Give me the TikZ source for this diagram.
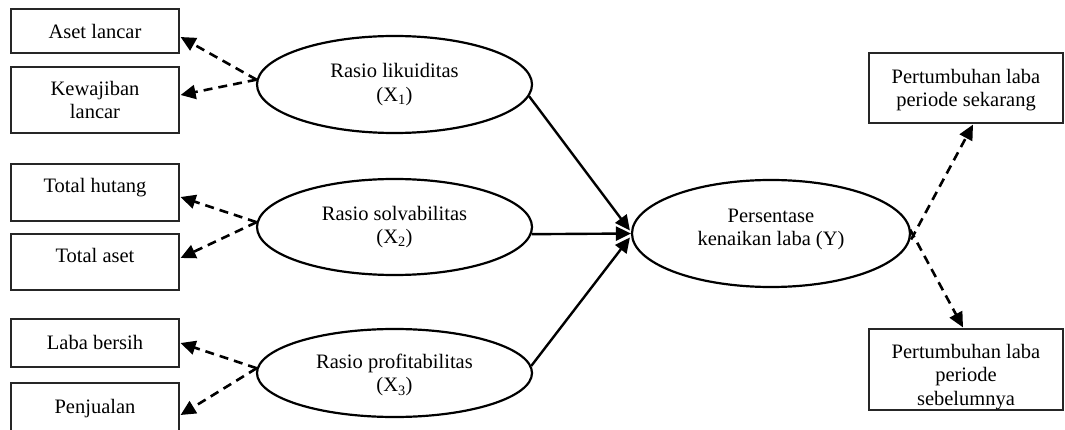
\documentclass[tikz,border=0pt]{standalone}
\usepackage{fontspec}
\setmainfont{Liberation Serif}
\usetikzlibrary{arrows.meta,calc,shapes.geometric}
\begin{document}
\begin{tikzpicture}[x=1pt,y=-1pt,
  txt/.style={font=\fontsize{20.5}{23.5}\selectfont, align=center, inner sep=0pt},
  box/.style={txt, draw=black!85, line width=1.2pt, rectangle},
  lat/.style={txt, draw, ellipse, line width=2.2pt},
  dasharrow/.style={line width=2.6pt, dash pattern=on 9pt off 6pt, -{Triangle[length=15pt,width=14pt]}},
  solidarrow/.style={line width=2.4pt, -{Triangle[length=15pt,width=14pt]}}]
\useasboundingbox (0,0) rectangle (1065,430);

% indicator boxes (left)
\node[box, minimum width=168pt, minimum height=44pt, text height=16pt, text depth=0pt] (b1) at (95,31) {Aset lancar};
\node[box, minimum width=168pt, minimum height=66pt] (b2) at (95,100) {Kewajiban\\lancar};
\node[box, minimum width=168pt, minimum height=57pt, text height=14pt, text depth=13pt] (b3) at (95,192.5) {Total hutang};
\node[box, minimum width=168pt, minimum height=56pt, text height=14pt, text depth=12pt] (b4) at (95,262) {Total aset};
\node[box, minimum width=168pt, minimum height=48pt, text height=14pt, text depth=2pt] (b5) at (95,343) {Laba bersih};
\node[box, minimum width=168pt, minimum height=57pt, text height=14pt, text depth=11pt] (b6) at (95,411.5) {Penjualan};

% latent variables
\node[lat, minimum width=275pt, minimum height=97pt] (e1) at (394.5,84.5) {Rasio likuiditas\\(X\textsubscript{1})};
\node[lat, minimum width=275pt, minimum height=96pt] (e2) at (394.5,227) {Rasio solvabilitas\\(X\textsubscript{2})};
\node[lat, minimum width=275pt, minimum height=88pt, text depth=0pt] (e3) at (394.5,373) {Rasio profitabilitas\\(X\textsubscript{3})};
\node[lat, minimum width=278pt, minimum height=107pt, text depth=12pt] (y) at (771,233.5) {Persentase\\kenaikan laba (Y)};

% right indicator boxes
\node[box, minimum width=194pt, minimum height=70pt, text depth=0pt] (b7) at (966,88) {Pertumbuhan laba\\periode sekarang};
\node[box, minimum width=194pt, minimum height=81pt, text height=71pt, text depth=0pt] (b8) at (966,369.5) {Pertumbuhan laba\\periode\\sebelumnya};

% dashed reflective arrows
\draw[dasharrow] (e1.178) -- ($(b1.east)+(1,6)$);
\draw[dasharrow] (e1.178) -- ($(b2.east)+(1,-5)$);
\draw[dasharrow] (e2.178) -- ($(b3.east)+(1,4.5)$);
\draw[dasharrow] (e2.178) -- ($(b4.east)+(1,-4)$);
\draw[dasharrow] (e3.178) -- ($(b5.east)+(1,0)$);
\draw[dasharrow] (e3.178) -- ($(b6.east)+(1,3.5)$);

\draw[dasharrow] ($(y.east)+(0,6)$) -- ($(b7.south)+(7,1)$);
\draw[dasharrow] ($(y.east)+(-1,-4)$) -- ($(b8.north)+(-3,-1)$);

% structural arrows
\draw[solidarrow] (e1.-5) -- ($(y.west)+(-1,-3)$);
\draw[solidarrow] (e2.-3) -- (y.west);
\draw[solidarrow] (e3.3) -- ($(y.west)+(-1,4)$);
\end{tikzpicture}
\end{document}
